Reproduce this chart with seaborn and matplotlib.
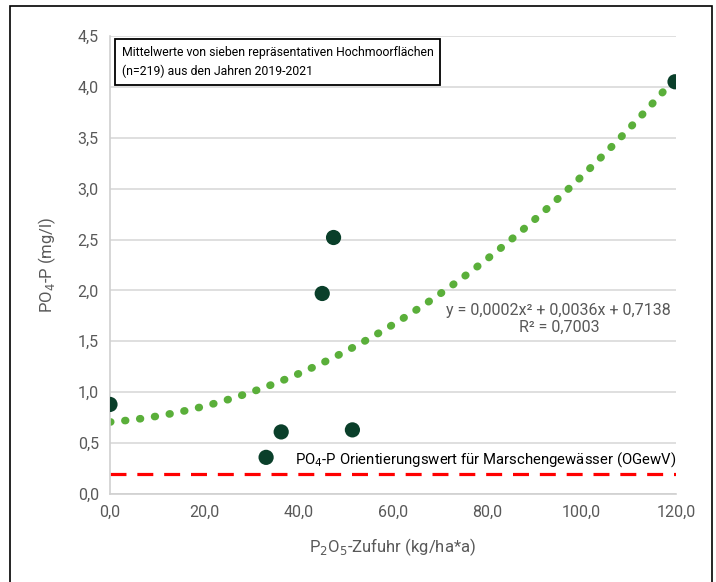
import pandas as pd
import matplotlib.pyplot as plt
import seaborn as sns
from matplotlib.patches import Rectangle
from matplotlib.ticker import FuncFormatter, MultipleLocator

# ===================================
# Data
# ===================================

p2o5 = [0.0, 33.1, 36.3, 45.0, 47.4, 51.4, 119.8]
po4 = [0.88, 0.36, 0.61, 1.97, 2.52, 0.63, 4.05]
guide_x = [0.0, 120.0]
guide_y = [0.2, 0.2]

df = pd.DataFrame({"P2O5": p2o5, "PO4": po4})
guide = pd.DataFrame({"x": guide_x, "y": guide_y})

sns.set_style("white")
plt.rcParams["font.family"] = ["Roboto", "DejaVu Sans"]

fig = plt.figure(figsize=(7.16, 5.82), dpi=100)
ax = fig.add_axes([0.1536, 0.1512, 0.7905, 0.787])

# limits first, so the untruncated fit spans the full x range
ax.set_xlim(0, 120)
ax.set_ylim(0, 4.5)

# outer frame
fig.patches.append(Rectangle(
    (10 / 716, -0.01), 702 / 716, 1 - 6 / 582 + 0.01,
    transform=fig.transFigure, fill=False,
    edgecolor="black", linewidth=1.2
))

# ===================================
# Trend + points
# ===================================

sns.regplot(
    data=df, x="P2O5", y="PO4", order=2, ci=None,
    scatter=False, truncate=False, ax=ax,
    line_kws=dict(color="#5AAF3A", linewidth=5.5,
                  linestyle=(0, (0.1, 1.86)),
                  dash_capstyle="round")
)

sns.lineplot(
    data=guide, x="x", y="y", ax=ax,
    color="#FF0000", linewidth=2.3,
    linestyle=(0, (5, 3.4))
)

sns.scatterplot(
    data=df, x="P2O5", y="PO4", ax=ax,
    s=120, color="#0A3F2A", edgecolor="none", zorder=5
)

# ===================================
# Axes styling
# ===================================

ax.set_xlim(0, 120)
ax.set_ylim(0, 4.5)
ax.xaxis.set_major_locator(MultipleLocator(20))
ax.yaxis.set_major_locator(MultipleLocator(0.5))
fmt = FuncFormatter(lambda v, p: f"{v:.1f}".replace(".", ","))
ax.xaxis.set_major_formatter(fmt)
ax.yaxis.set_major_formatter(fmt)
ax.tick_params(colors="#595959", labelsize=11.5, length=0, pad=8)
ax.grid(axis="y", color="#D9D9D9", linewidth=1.2)
ax.set_axisbelow(True)
for s in ["top", "right"]:
    ax.spines[s].set_visible(False)
for s in ["left", "bottom"]:
    ax.spines[s].set_color("#D0D0D0")
    ax.spines[s].set_linewidth(1.2)

ax.set_xlabel("P$_2$O$_5$-Zufuhr (kg/ha*a)", color="#595959",
              fontsize=12, labelpad=12)
ax.set_ylabel("PO$_4$-P (mg/l)", color="#595959",
              fontsize=12, labelpad=14)

# ===================================
# Annotations
# ===================================

ax.text(
    0.021, 0.943,
    "Mittelwerte von sieben repräsentativen Hochmoorflächen\n"
    "(n=219) aus den Jahren 2019-2021",
    transform=ax.transAxes, ha="left", va="center",
    fontsize=8.8, color="black", linespacing=1.55, zorder=7,
    bbox=dict(boxstyle="square,pad=0.55", facecolor="white",
              edgecolor="black", linewidth=1.3)
)

ax.text(
    0.793, 0.382,
    "y = 0,0002x² + 0,0036x + 0,7138\nR² = 0,7003",
    transform=ax.transAxes, ha="center", va="center",
    fontsize=11.5, color="#595959", linespacing=1.1
)

ax.text(
    1.0, 0.22 / 4.5 + 0.005,
    "PO$_4$-P Orientierungswert für Marschengewässer (OGewV)",
    transform=ax.transAxes, ha="right", va="bottom",
    fontsize=10.7, color="black"
)

fig.savefig("out.png", dpi=100)
